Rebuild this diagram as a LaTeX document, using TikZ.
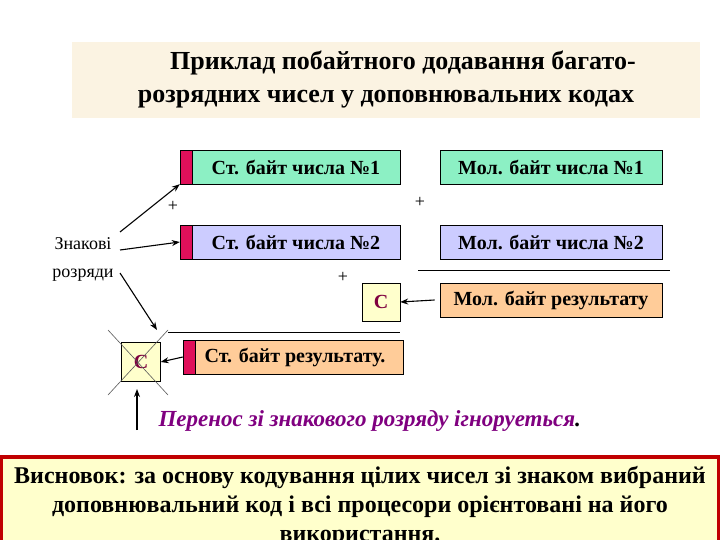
\documentclass[tikz,border=0pt]{standalone}
\usepackage{fontspec}
\usetikzlibrary{arrows.meta}
\setmainfont{Liberation Serif}
\begin{document}
\begin{tikzpicture}[x=1pt,y=-1pt,
 bx/.style={draw=black,line width=0.8pt,minimum width=222pt,minimum height=34pt,inner sep=0pt,font=\bfseries\fontsize{20}{22}\selectfont},
 strip/.style={draw=black,fill={rgb,255:red,224;green,16;blue,90},minimum width=12pt,minimum height=34pt,inner sep=0pt},
 arr/.style={-{Stealth[length=8pt,width=6pt]},line width=1.1pt},
 pl/.style={font=\fontsize{18}{18}\selectfont}]
\useasboundingbox (0,0) rectangle (720,540);
\fill[white] (0,0) rectangle (720,540);
\node[fill={rgb,255:red,251;green,243;blue,226},minimum width=628pt,minimum height=76pt,align=center,font=\bfseries\fontsize{26}{33}\selectfont] (title) at (386,80) {\hspace*{1.3em}Приклад побайтного додавання багато-\\розрядних чисел у доповнювальних кодах};
\definecolor{gr}{RGB}{140,240,196}\definecolor{lv}{RGB}{204,204,255}\definecolor{pe}{RGB}{255,204,153}\definecolor{ly}{RGB}{255,255,204}
\node[bx,fill=gr,minimum width=220pt] (s1) at (290,167) {\hspace*{12pt}Ст. байт числа №1};
\node[strip] (r1) at (186,167) {};
\node[bx,fill=gr] (m1) at (551,167) {Мол. байт числа №1};
\node[bx,fill=lv,minimum width=220pt] (s2) at (290,242) {\hspace*{12pt}Ст. байт числа №2};
\node[strip] (r2) at (186,242) {};
\node[bx,fill=lv] (m2) at (551,242) {Мол. байт числа №2};
\node[pl] (p1) at (173,206) {+};
\node[pl] (p2) at (420,202) {+};
\node[pl] (p3) at (343,277) {+};
\draw[line width=0.8pt] (418,270) coordinate (l1a) -- (670,270) coordinate (l1b);
\node[draw,fill=ly,minimum width=38pt,minimum height=38pt,inner sep=0pt,text={rgb,255:red,128;green,0;blue,64},font=\bfseries\fontsize{20}{20}\selectfont] (c1) at (381,302) {C};
\node[bx,fill=pe] (mr) at (551,300) {Мол. байт результату};
\draw[arr] (mr.west) ++(-5,0) coordinate (a0) -- (c1.east);
\draw[line width=0.8pt] (168,332) coordinate (l2a) -- (400,332) coordinate (l2b);
\node[draw,fill=ly,minimum width=39pt,minimum height=39pt,inner sep=0pt,text={rgb,255:red,128;green,0;blue,64},font=\bfseries\fontsize{20}{20}\selectfont] (c2) at (141,362) {C};
\draw[gray!70!black,line width=0.6pt] (108,330) coordinate (x1) -- (168,395) coordinate (x2);
\draw[gray!70!black,line width=0.6pt] (168,330) coordinate (x3) -- (108,395) coordinate (x4);
\node[bx,fill=pe,minimum width=220pt] (sr) at (293,357) {\hspace*{4pt}Ст. байт результату.};
\node[strip] (r3) at (189,357) {};
\draw[arr] (r3.west) -- (c2.east);
\node[align=center,font=\fontsize{18}{28}\selectfont] (zn) at (83,259) {Знакові\\розряди};
\draw[arr] (120,232) coordinate (z1) -- (r1.south west);
\draw[arr] (120,250) coordinate (z2) -- (r2.west);
\draw[arr] (120,273) coordinate (z3) -- (157,330) coordinate (z4);
\draw[arr] (137,430) coordinate (u1) -- (137,389) coordinate (u2);
\node[anchor=west,text={rgb,255:red,128;green,0;blue,128},font=\bfseries\itshape\fontsize{23}{23}\selectfont] (pr) at (155,421) {Перенос зі знакового розряду ігноруеться\textcolor{black}{.}};
\begin{scope}
\clip (0,0) rectangle (720,540);
\draw[fill=ly,draw={rgb,255:red,192;green,0;blue,0},line width=4pt] (1,457) rectangle (719,560);
\node[align=center,font=\bfseries\fontsize{24}{29}\selectfont] (vs) at (360,506) {Висновок: за основу кодування цілих чисел зі знаком вибраний\\доповнювальний код і всі процесори орієнтовані на його\\використання.};
\end{scope}
\end{tikzpicture}
\end{document}
